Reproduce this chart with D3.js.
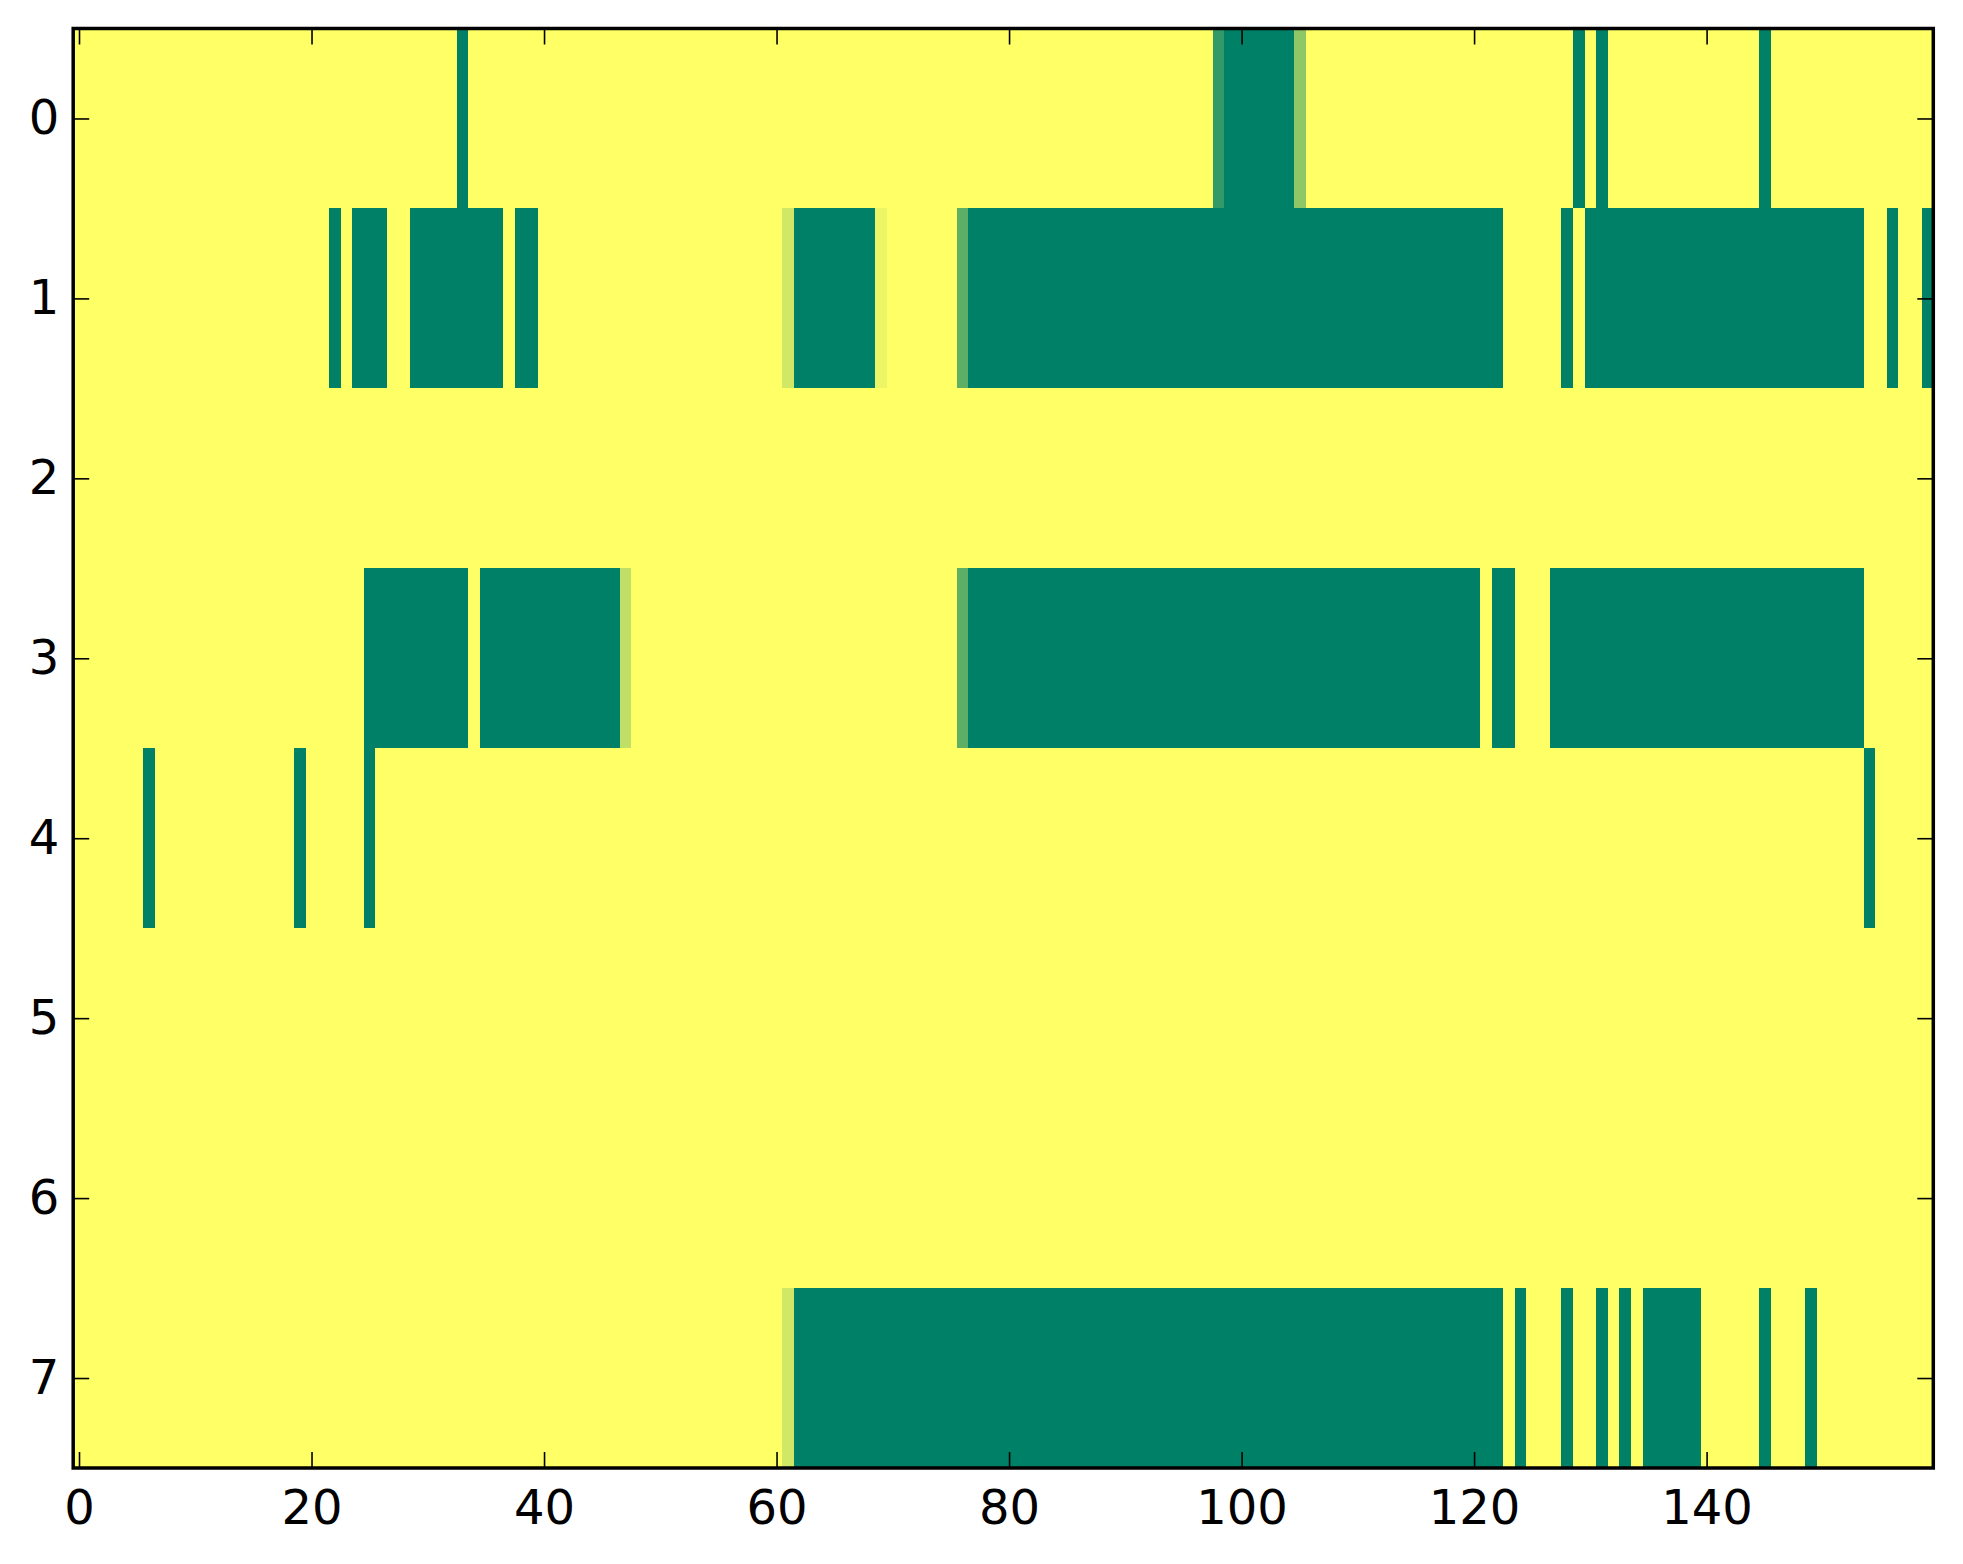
<!DOCTYPE html>
<html>
<head>
<meta charset="utf-8">
<script src="https://cdn.jsdelivr.net/npm/d3@7"></script>
<style>
  html, body { margin: 0; padding: 0; background: #ffffff; }
  svg { display: block; }
</style>
</head>
<body>
<svg id="chart" width="1963" height="1564"></svg>
<script>
// ---- Data (values 0..1, colormap "summer") ----
const row0 = [
  1,1,1,1,1,1,1,1,1,1, 1,1,1,1,1,1,1,1,1,1,
  1,1,1,1,1,1,1,1,1,1, 1,1,1,0,1,1,1,1,1,1,
  1,1,1,1,1,1,1,1,1,1, 1,1,1,1,1,1,1,1,1,1,
  1,1,1,1,1,1,1,1,1,1, 1,1,1,1,1,1,1,1,1,1,
  1,1,1,1,1,1,1,1,1,1, 1,1,1,1,1,1,1,1,0.2,0,
  0,0,0,0,0,0.56,1,1,1,1, 1,1,1,1,1,1,1,1,1,1,
  1,1,1,1,1,1,1,1,1,0, 1,0,1,1,1,1,1,1,1,1,
  1,1,1,1,1,0,1,1,1,1, 1,1,1,1,1,1,1,1,1,1
];
const row1 = [
  1,1,1,1,1,1,1,1,1,1, 1,1,1,1,1,1,1,1,1,1,
  1,1,0,1,0,0,0,1,1,0, 0,0,0,0,0,0,0,1,0,0,
  1,1,1,1,1,1,1,1,1,1, 1,1,1,1,1,1,1,1,1,1,
  1,0.82,0,0,0,0,0,0,0,0.92, 1,1,1,1,1,1,0.37,0,0,0,
  0,0,0,0,0,0,0,0,0,0, 0,0,0,0,0,0,0,0,0,0,
  0,0,0,0,0,0,0,0,0,0, 0,0,0,0,0,0,0,0,0,0,
  0,0,0,1,1,1,1,1,0,1, 0,0,0,0,0,0,0,0,0,0,
  0,0,0,0,0,0,0,0,0,0, 0,0,0,0,1,1,0,1,1,0
];
const row2 = [
  1,1,1,1,1,1,1,1,1,1, 1,1,1,1,1,1,1,1,1,1,
  1,1,1,1,1,1,1,1,1,1, 1,1,1,1,1,1,1,1,1,1,
  1,1,1,1,1,1,1,1,1,1, 1,1,1,1,1,1,1,1,1,1,
  1,1,1,1,1,1,1,1,1,1, 1,1,1,1,1,1,1,1,1,1,
  1,1,1,1,1,1,1,1,1,1, 1,1,1,1,1,1,1,1,1,1,
  1,1,1,1,1,1,1,1,1,1, 1,1,1,1,1,1,1,1,1,1,
  1,1,1,1,1,1,1,1,1,1, 1,1,1,1,1,1,1,1,1,1,
  1,1,1,1,1,1,1,1,1,1, 1,1,1,1,1,1,1,1,1,1
];
const row3 = [
  1,1,1,1,1,1,1,1,1,1, 1,1,1,1,1,1,1,1,1,1,
  1,1,1,1,1,0,0,0,0,0, 0,0,0,0,1,0,0,0,0,0,
  0,0,0,0,0,0,0,0.75,1,1, 1,1,1,1,1,1,1,1,1,1,
  1,1,1,1,1,1,1,1,1,1, 1,1,1,1,1,1,0.37,0,0,0,
  0,0,0,0,0,0,0,0,0,0, 0,0,0,0,0,0,0,0,0,0,
  0,0,0,0,0,0,0,0,0,0, 0,0,0,0,0,0,0,0,0,0,
  0,1,0,0,1,1,1,0,0,0, 0,0,0,0,0,0,0,0,0,0,
  0,0,0,0,0,0,0,0,0,0, 0,0,0,0,1,1,1,1,1,1
];
const row4 = [
  1,1,1,1,1,1,0,1,1,1, 1,1,1,1,1,1,1,1,1,0,
  1,1,1,1,1,0,1,1,1,1, 1,1,1,1,1,1,1,1,1,1,
  1,1,1,1,1,1,1,1,1,1, 1,1,1,1,1,1,1,1,1,1,
  1,1,1,1,1,1,1,1,1,1, 1,1,1,1,1,1,1,1,1,1,
  1,1,1,1,1,1,1,1,1,1, 1,1,1,1,1,1,1,1,1,1,
  1,1,1,1,1,1,1,1,1,1, 1,1,1,1,1,1,1,1,1,1,
  1,1,1,1,1,1,1,1,1,1, 1,1,1,1,1,1,1,1,1,1,
  1,1,1,1,1,1,1,1,1,1, 1,1,1,1,0,1,1,1,1,1
];
const row5 = [
  1,1,1,1,1,1,1,1,1,1, 1,1,1,1,1,1,1,1,1,1,
  1,1,1,1,1,1,1,1,1,1, 1,1,1,1,1,1,1,1,1,1,
  1,1,1,1,1,1,1,1,1,1, 1,1,1,1,1,1,1,1,1,1,
  1,1,1,1,1,1,1,1,1,1, 1,1,1,1,1,1,1,1,1,1,
  1,1,1,1,1,1,1,1,1,1, 1,1,1,1,1,1,1,1,1,1,
  1,1,1,1,1,1,1,1,1,1, 1,1,1,1,1,1,1,1,1,1,
  1,1,1,1,1,1,1,1,1,1, 1,1,1,1,1,1,1,1,1,1,
  1,1,1,1,1,1,1,1,1,1, 1,1,1,1,1,1,1,1,1,1
];
const row6 = [
  1,1,1,1,1,1,1,1,1,1, 1,1,1,1,1,1,1,1,1,1,
  1,1,1,1,1,1,1,1,1,1, 1,1,1,1,1,1,1,1,1,1,
  1,1,1,1,1,1,1,1,1,1, 1,1,1,1,1,1,1,1,1,1,
  1,1,1,1,1,1,1,1,1,1, 1,1,1,1,1,1,1,1,1,1,
  1,1,1,1,1,1,1,1,1,1, 1,1,1,1,1,1,1,1,1,1,
  1,1,1,1,1,1,1,1,1,1, 1,1,1,1,1,1,1,1,1,1,
  1,1,1,1,1,1,1,1,1,1, 1,1,1,1,1,1,1,1,1,1,
  1,1,1,1,1,1,1,1,1,1, 1,1,1,1,1,1,1,1,1,1
];
const row7 = [
  1,1,1,1,1,1,1,1,1,1, 1,1,1,1,1,1,1,1,1,1,
  1,1,1,1,1,1,1,1,1,1, 1,1,1,1,1,1,1,1,1,1,
  1,1,1,1,1,1,1,1,1,1, 1,1,1,1,1,1,1,1,1,1,
  1,0.82,0,0,0,0,0,0,0,0, 0,0,0,0,0,0,0,0,0,0,
  0,0,0,0,0,0,0,0,0,0, 0,0,0,0,0,0,0,0,0,0,
  0,0,0,0,0,0,0,0,0,0, 0,0,0,0,0,0,0,0,0,0,
  0,0,0,1,0,1,1,1,0,1, 1,0,1,0,1,0,0,0,0,0,
  1,1,1,1,1,0,1,1,1,0, 1,1,1,1,1,1,1,1,1,1
];
const rows = [row0, row1, row2, row3, row4, row5, row6, row7];
const xTicks = [0, 20, 40, 60, 80, 100, 120, 140];
const yTicks = [0, 1, 2, 3, 4, 5, 6, 7];

// ---- Layout ----
const plotL = 73.2, plotR = 1933.3, plotT = 28.5, plotB = 1468;
const nCols = row0.length, nRows = rows.length;

const svg = d3.select("#chart");
const x = d3.scaleLinear().domain([-0.5, nCols - 0.5]).range([plotL, plotR]);
const y = d3.scaleLinear().domain([-0.5, nRows - 0.5]).range([plotT, plotB]);
const color = d3.scaleLinear().domain([0, 1]).range(["#008066", "#ffff66"]).interpolate(d3.interpolateRgb);

const cells = [];
rows.forEach((r, ri) => r.forEach((v, ci) => cells.push({ r: ri, c: ci, v })));

svg.append("g").attr("shape-rendering", "crispEdges")
  .selectAll("rect").data(cells).join("rect")
  .attr("x", d => x(d.c - 0.5))
  .attr("y", d => y(d.r - 0.5))
  .attr("width", d => x(d.c + 0.5) - x(d.c - 0.5) + 0.5)
  .attr("height", d => y(d.r + 0.5) - y(d.r - 0.5) + 0.5)
  .attr("fill", d => color(d.v));

const font = "DejaVu Sans, sans-serif";
function styleAxis(g, showLabels) {
  g.select(".domain").remove();
  g.selectAll(".tick line").attr("stroke", "#000").attr("stroke-width", 1.6);
  g.selectAll(".tick text")
    .attr("fill", "#000")
    .style("font-family", font)
    .style("font-size", "48px")
    .style("display", showLabels ? null : "none");
}

const tl = 16;
svg.append("g").attr("transform", `translate(0,${plotB})`)
  .call(d3.axisBottom(x).tickValues(xTicks).tickSizeInner(-tl).tickSizeOuter(0).tickPadding(22).tickFormat(d3.format("d")))
  .call(g => styleAxis(g, true));
svg.append("g").attr("transform", `translate(0,${plotT})`)
  .call(d3.axisTop(x).tickValues(xTicks).tickSizeInner(-tl).tickSizeOuter(0))
  .call(g => styleAxis(g, false));
svg.append("g").attr("transform", `translate(${plotL},0)`)
  .call(d3.axisLeft(y).tickValues(yTicks).tickSizeInner(-tl).tickSizeOuter(0).tickPadding(14).tickFormat(d3.format("d")))
  .call(g => styleAxis(g, true));
svg.append("g").attr("transform", `translate(${plotR},0)`)
  .call(d3.axisRight(y).tickValues(yTicks).tickSizeInner(-tl).tickSizeOuter(0))
  .call(g => styleAxis(g, false));

svg.append("rect")
  .attr("x", plotL).attr("y", plotT)
  .attr("width", plotR - plotL).attr("height", plotB - plotT)
  .attr("fill", "none").attr("stroke", "#000").attr("stroke-width", 3.5);
</script>
</body>
</html>
